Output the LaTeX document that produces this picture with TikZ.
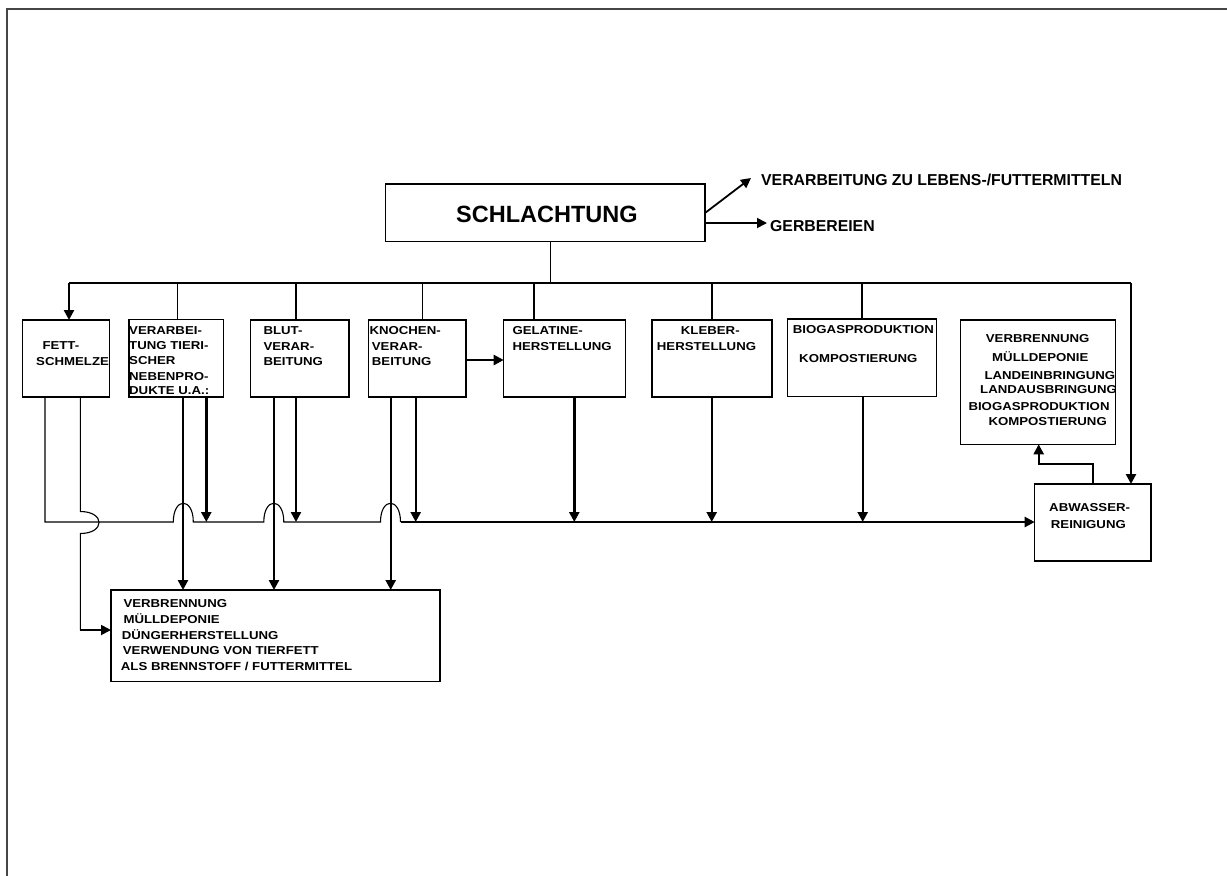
\documentclass[tikz,border=0pt]{standalone}
\usepackage{fontspec}
\newfontfamily\labfont{Liberation Sans}[FakeStretch=1.15]
\newfontfamily\headfont{Liberation Sans}
\usetikzlibrary{arrows.meta}
\definecolor{framegray}{RGB}{70,70,70}
\begin{document}
\begin{tikzpicture}[x=1pt,y=-1pt,
 box/.style={draw=black, line width=1.3pt, inner sep=0pt, outer sep=0pt, anchor=north west},
 lab/.style={font=\labfont\bfseries\fontsize{11.5}{14}\selectfont, inner sep=0pt, anchor=west, text height=8.2pt, text depth=0pt},
 side/.style={font=\headfont\bfseries\fontsize{15.8}{18}\selectfont, inner sep=0pt, anchor=west, text height=11.3pt, text depth=0pt},
 head/.style={font=\headfont\bfseries\fontsize{23.5}{26}\selectfont, inner sep=0pt, anchor=west, text height=16.8pt, text depth=0pt},
 thinl/.style={line width=1.1pt},
 thickl/.style={line width=2.4pt},
 arr/.style={-{Triangle[length=10pt,width=10pt]}},
 frameline/.style={draw=framegray, line width=1.8pt},
]
\useasboundingbox (0,0) rectangle (1227,876);
\draw[frameline] (6.7,876) -- (6.7,9) -- (1227,9);

% boxes
\node[box, minimum width=319.3pt, minimum height=57.7pt] (sch) at (385.7,184) {};
\node[box, minimum width=86.6pt, minimum height=77pt] (fett) at (22.7,320) {};
\node[box, minimum width=94.7pt, minimum height=77.5pt] (vt) at (129,319.5) {};
\node[box, minimum width=98.3pt, minimum height=77pt] (blut) at (250.7,320) {};
\node[box, minimum width=97.3pt, minimum height=77pt] (kno) at (368.7,320) {};
\node[box, minimum width=122pt, minimum height=77pt] (gel) at (503.7,320) {};
\node[box, minimum width=120pt, minimum height=77pt] (kle) at (652,320) {};
\node[box, minimum width=149.4pt, minimum height=77.5pt] (bio) at (787.3,319) {};
\node[box, minimum width=155pt, minimum height=124.3pt] (rb) at (960.7,320) {};
\node[box, minimum width=116.3pt, minimum height=77pt] (abw) at (1034.7,484) {};
\node[box, minimum width=329pt, minimum height=91.7pt] (bot) at (111,590) {};

% texts
\node[head] (schT) at (456,214) {SCHLACHTUNG};
\node[side] (vlT) at (761,179.6) {VERARBEITUNG ZU LEBENS-/FUTTERMITTELN};
\node[side] (gbT) at (770,226) {GERBEREIEN};

\node[lab] (fett1) at (42.3,345) {FETT-};
\node[lab] (fett2) at (36,361.7) {SCHMELZE};

\node[lab] (vt1) at (129,330) {VERARBEI-};
\node[lab] (vt2) at (129,345.7) {TUNG TIERI-};
\node[lab] (vt3) at (129,360.7) {SCHER};
\node[lab] (vt4) at (129,376) {NEBENPRO-};
\node[lab] (vt5) at (129,390.7) {DUKTE U.A.:};

\node[lab] (bl1) at (263.3,330.7) {BLUT-};
\node[lab] (bl2) at (263.3,346.7) {VERAR-};
\node[lab] (bl3) at (263.3,361.7) {BEITUNG};

\node[lab] (kn1) at (369.3,330.7) {KNOCHEN-};
\node[lab] (kn2) at (371.7,346) {VERAR-};
\node[lab] (kn3) at (371.7,361.7) {BEITUNG};

\node[lab] (ge1) at (512.3,330) {GELATINE-};
\node[lab] (ge2) at (512.3,346.7) {HERSTELLUNG};

\node[lab] (kl1) at (680.7,330) {KLEBER-};
\node[lab] (kl2) at (656.7,346.7) {HERSTELLUNG};

\node[lab] (bi1) at (792.7,329.3) {BIOGASPRODUKTION};
\node[lab] (bi2) at (799,358.3) {KOMPOSTIERUNG};

\node[lab] (rb1) at (985.7,338.3) {VERBRENNUNG};
\node[lab] (rb2) at (992,357.3) {MÜLLDEPONIE};
\node[lab] (rb3) at (984.3,375.7) {LANDEINBRINGUNG};
\node[lab] (rb4) at (980,389.3) {LANDAUSBRINGUNG};
\node[lab] (rb5) at (968.3,406.7) {BIOGASPRODUKTION};
\node[lab] (rb6) at (988.3,421) {KOMPOSTIERUNG};

\node[lab] (ab1) at (1049,507.7) {ABWASSER-};
\node[lab] (ab2) at (1050.7,524.3) {REINIGUNG};

\node[lab] (bo1) at (123.3,603.3) {VERBRENNUNG};
\node[lab] (bo2) at (123.3,619.3) {MÜLLDEPONIE};
\node[lab] (bo3) at (121.7,635) {DÜNGERHERSTELLUNG};
\node[lab] (bo4) at (122.7,650.7) {VERWENDUNG VON TIERFETT};
\node[lab] (bo5) at (120.7,666.7) {ALS BRENNSTOFF / FUTTERMITTEL};

% coordinates
\coordinate (busL) at (69,283);
\coordinate (busR) at (1131,283);
\coordinate (stem) at (550.7,283);
\coordinate (dvt) at (177.7,283);
\coordinate (dbl) at (296,283);
\coordinate (dkn) at (422.7,283);
\coordinate (dge) at (534,283);
\coordinate (dkl) at (712,283);
\coordinate (dbi) at (862,283);
\coordinate (g0) at (705,223);
\coordinate (g1) at (767,223);
\coordinate (v0) at (705,213);
\coordinate (v1) at (751,178);
\coordinate (kg) at (0,360);
\coordinate (hy) at (0,522);
\coordinate (xa1) at (183,0);
\coordinate (xb1) at (206.3,0);
\coordinate (xa2) at (274,0);
\coordinate (xb2) at (296,0);
\coordinate (xa3) at (390.7,0);
\coordinate (xb3) at (415.7,0);
\coordinate (xg) at (574.3,0);
\coordinate (xk) at (711.7,0);
\coordinate (xbi) at (862.7,0);
\coordinate (f1) at (45,522);
\coordinate (h1a) at (173.3,522);
\coordinate (h1b) at (193.3,522);
\coordinate (h2a) at (263.8,522);
\coordinate (h2b) at (283.8,522);
\coordinate (h3a) at (380.5,522);
\coordinate (h3b) at (400.5,522);
\coordinate (fb1) at (80.3,511.5);
\coordinate (fb2) at (80.3,533.5);
\coordinate (fb3) at (80.3,630);
\coordinate (u1) at (1093,464);
\coordinate (u2) at (1038.7,464);

% bus
\draw[thinl] (sch.south -| stem) -- (stem);
\draw[thinl] (busL) -- (busR);
\draw[thinl] (dvt) -- (dvt |- vt.north);
\draw[thinl] (dbl) -- (dbl |- blut.north);
\draw[thinl] (dkn) -- (dkn |- kno.north);
\draw[thinl] (dge) -- (dge |- gel.north);
\draw[thinl] (dkl) -- (dkl |- kle.north);
\draw[thinl] (dbi) -- (dbi |- bio.north);
\draw[thickl, arr] (busL) -- (busL |- fett.north);
\draw[thickl, arr] (busR) -- (busR |- abw.north);

% side arrows
\draw[line width=1.8pt, arr] (g0) -- (g1);
\draw[line width=1.8pt, arr] (v0) -- (v1);

% knochen to gelatine
\draw[thickl, arr] (kno.east |- kg) -- (gel.west |- kg);

% collector line with hops
\draw[thinl] (fett.south -| f1) -- (f1) -- (h1a) .. controls +(0,-25) and +(0,-25) .. (h1b)
  -- (h2a) .. controls +(0,-25) and +(0,-25) .. (h2b)
  -- (h3a) .. controls +(0,-25) and +(0,-25) .. (h3b);
\draw[thickl, arr] (h3b) -- (abw.west |- h3b);

% fett second line
\draw[thinl] (fett.south -| fb1) -- (fb1) .. controls +(25,0) and +(25,0) .. (fb2) -- (fb3);
\draw[line width=1.8pt, arr] (fb3) -- (bot.west |- fb3);

% drops
\draw[thickl, arr] (vt.south -| xa1) -- (bot.north -| xa1);
\draw[thickl, arr] (vt.south -| xb1) -- (hy -| xb1);
\draw[thickl, arr] (blut.south -| xa2) -- (bot.north -| xa2);
\draw[thickl, arr] (blut.south -| xb2) -- (hy -| xb2);
\draw[thickl, arr] (kno.south -| xa3) -- (bot.north -| xa3);
\draw[thickl, arr] (kno.south -| xb3) -- (hy -| xb3);
\draw[thickl, arr] (gel.south -| xg) -- (hy -| xg);
\draw[thickl, arr] (kle.south -| xk) -- (hy -| xk);
\draw[thickl, arr] (bio.south -| xbi) -- (hy -| xbi);

% abwasser to right box
\draw[thickl, arr] (abw.north -| u1) -- (u1) -- (u2) -- (rb.south -| u2);
\end{tikzpicture}
\end{document}
